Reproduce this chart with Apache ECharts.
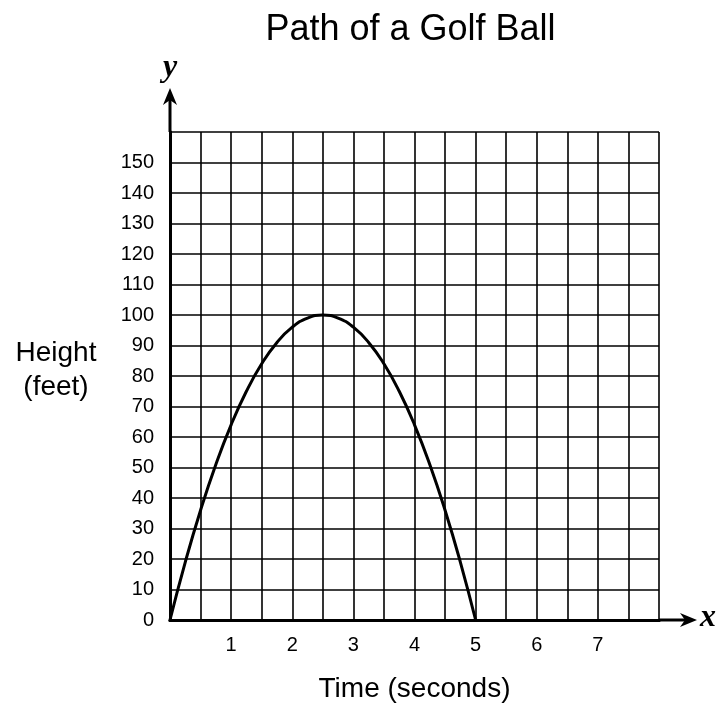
<!DOCTYPE html>
<html>
<head>
<meta charset="utf-8">
<title>Path of a Golf Ball</title>
<script src="https://cdn.jsdelivr.net/npm/echarts@6/dist/echarts.min.js"></script>
<style>
html, body { margin: 0; padding: 0; background: #fff; }
#chart { width: 722px; height: 709px; }
</style>
</head>
<body>
<div id="chart"></div>
<script>
// time (seconds) and height (feet), every quarter second
var times = [0, 0.25, 0.5, 0.75, 1, 1.25, 1.5, 1.75, 2, 2.25, 2.5, 2.75, 3, 3.25, 3.5, 3.75, 4, 4.25, 4.5, 4.75, 5];
var heights = [0, 19, 36, 51, 64, 75, 84, 91, 96, 99, 100, 99, 96, 91, 84, 75, 64, 51, 36, 19, 0];

var xTickLabels = ['1', '2', '3', '4', '5', '6', '7'];
var yTickLabels = ['0', '10', '20', '30', '40', '50', '60', '70', '80', '90', '100', '110', '120', '130', '140', '150'];

var FONT = 'Liberation Sans, Arial, Helvetica, sans-serif';

var chart = echarts.init(document.getElementById('chart'));

var points = times.map(function (t, i) { return [t, heights[i]]; });

var gridLine = { show: true, lineStyle: { color: '#000', width: 1.6 } };
var border = { show: true, lineStyle: { color: '#000', width: 3 } };

chart.setOption({
    animation: false,
    backgroundColor: '#fff',
    grid: { left: 170, right: 63, top: 132, bottom: 89 },
    xAxis: [{
        type: 'value',
        min: 0, max: 8, interval: 0.5,
        axisLine: border,
        axisTick: { show: false },
        splitLine: gridLine,
        axisLabel: {
            margin: 15,
            fontFamily: FONT, fontSize: 20, color: '#000',
            formatter: function (v) { return xTickLabels.indexOf(String(v)) >= 0 ? String(v) : ''; }
        },
        name: 'Time (seconds)',
        nameLocation: 'middle',
        nameGap: 55,
        nameTextStyle: { fontFamily: FONT, fontSize: 28, color: '#000' }
    }, {
        type: 'value', position: 'top',
        min: 0, max: 8,
        axisLine: border,
        axisTick: { show: false }, axisLabel: { show: false }, splitLine: { show: false }
    }],
    yAxis: [{
        type: 'value',
        min: 0, max: 160, interval: 10,
        axisLine: border,
        axisTick: { show: false },
        splitLine: gridLine,
        axisLabel: {
            margin: 16,
            fontFamily: FONT, fontSize: 20, color: '#000',
            formatter: function (v) { return yTickLabels.indexOf(String(v)) >= 0 ? String(v) : ''; }
        }
    }, {
        type: 'value', position: 'right',
        min: 0, max: 160,
        axisLine: border,
        axisTick: { show: false }, axisLabel: { show: false }, splitLine: { show: false }
    }],
    series: [{
        type: 'line',
        data: points,
        smooth: true,
        showSymbol: false,
        lineStyle: { color: '#000', width: 3 },
        z: 5
    }]
});

// title over the plot, arrows past the ends of the axes, x / y letters and the side label
function drawExtras() {
    var o = chart.convertToPixel({ gridIndex: 0 }, [0, 0]);
    var yTop = chart.convertToPixel({ gridIndex: 0 }, [0, 160])[1];
    var xRight = chart.convertToPixel({ gridIndex: 0 }, [8, 0])[0];
    var yMid = chart.convertToPixel({ gridIndex: 0 }, [0, 80])[1];
    var yTip = yTop - 44, xTip = xRight + 38;
    var letter = { fontFamily: 'Liberation Serif, DejaVu Serif, serif', fontStyle: 'italic', fontWeight: 'bold', fontSize: 32, fill: '#000' };
    chart.setOption({
        graphic: [
            { type: 'text', x: (o[0] + xRight) / 2 - 4, y: 12, style: { text: 'Path of a Golf Ball', textAlign: 'center', textVerticalAlign: 'top', fontFamily: FONT, fontSize: 36, fill: '#000' } },
            { type: 'line', shape: { x1: o[0], y1: yTop, x2: o[0], y2: yTip + 10 }, style: { stroke: '#000', lineWidth: 3 } },
            { type: 'polygon', shape: { points: [[o[0], yTip], [o[0] - 7, yTip + 17], [o[0], yTip + 12], [o[0] + 7, yTip + 17]] }, style: { fill: '#000' } },
            { type: 'line', shape: { x1: xRight, y1: o[1], x2: xTip - 10, y2: o[1] }, style: { stroke: '#000', lineWidth: 3 } },
            { type: 'polygon', shape: { points: [[xTip, o[1]], [xTip - 17, o[1] - 7], [xTip - 12, o[1]], [xTip - 17, o[1] + 7]] }, style: { fill: '#000' } },
            { type: 'text', x: o[0], y: yTip - 4, style: Object.assign({ text: 'y', textAlign: 'center', textVerticalAlign: 'bottom' }, letter) },
            { type: 'text', x: xTip + 3, y: o[1] - 2, style: Object.assign({ text: 'x', textAlign: 'left', textVerticalAlign: 'middle' }, letter) },
            { type: 'text', x: 56, y: yMid - 6, style: { text: 'Height\n(feet)', textAlign: 'center', textVerticalAlign: 'middle', fontFamily: FONT, fontSize: 28, lineHeight: 34, fill: '#000' } }
        ]
    });
}
drawExtras();
</script>
</body>
</html>
